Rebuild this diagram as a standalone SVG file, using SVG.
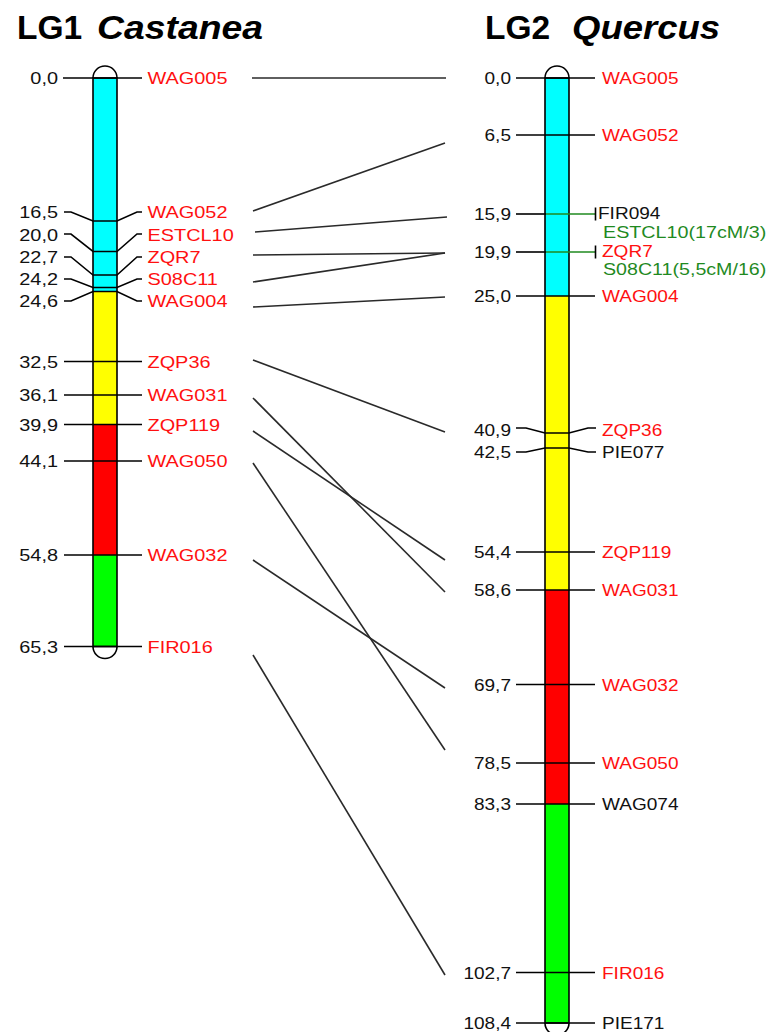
<svg xmlns="http://www.w3.org/2000/svg" width="771" height="1032" viewBox="0 0 771 1032">
<style>
text{font-family:"Liberation Sans",Arial,sans-serif}
.t{font-size:33.5px;font-weight:bold;fill:#000}
.ti{font-style:italic}
.n{font-size:17px;fill:#111}
.r{font-size:17px;fill:#ff1010}
.k{font-size:17px;fill:#111}
.g{font-size:17px;fill:#1f8a1f}
.e{text-anchor:end}
.tick{fill:none;stroke:#000;stroke-width:1.6}
.gt{fill:none;stroke:#1f8a1f;stroke-width:1.6}
.ch{stroke:#000;stroke-width:1.6}
.cap{fill:#fff;stroke:#000;stroke-width:1.6}
.con line{stroke:#2a2a2a;stroke-width:1.6}
</style>
<rect width="771" height="1032" fill="#fff"/>

<g id="title-lg1">
<text class="t" x="17" y="39">LG1</text>
<text class="t ti" transform="translate(97,39) scale(1.115 1)">Castanea</text>
</g>
<g id="title-lg2">
<text class="t" x="485" y="39">LG2</text>
<text class="t ti" transform="translate(572,39) scale(1.09 1)">Quercus</text>
</g>

<g id="chromosome-lg1">
<path class="cap" d="M93,78 A12,12 0 0 1 117,78"/>
<path class="cap" d="M93,646.5 A12,12 0 0 0 117,646.5"/>
<rect x="93" y="78" width="24" height="213.5" fill="#00ffff"/>
<rect x="93" y="291.5" width="24" height="133" fill="#ffff00"/>
<rect x="93" y="424.5" width="24" height="130.5" fill="#ff0000"/>
<rect x="93" y="555" width="24" height="91.5" fill="#00ff00"/>
<rect class="ch" x="93" y="78" width="24" height="568.5" fill="none"/>
</g>

<g id="chromosome-lg2">
<path class="cap" d="M545,78 A12,12 0 0 1 569,78"/>
<path class="cap" d="M545,1023 A12,12 0 0 0 569,1023"/>
<rect x="545" y="78" width="24" height="218" fill="#00ffff"/>
<rect x="545" y="296" width="24" height="294" fill="#ffff00"/>
<rect x="545" y="590" width="24" height="214" fill="#ff0000"/>
<rect x="545" y="804" width="24" height="219" fill="#00ff00"/>
<rect class="ch" x="545" y="78" width="24" height="945" fill="none"/>
</g>

<g id="lg1-markers">
<g id="lg1-WAG005"><path class="tick" d="M63,78 H142"/><text class="n e" transform="translate(58,84) scale(1.17 1)">0,0</text><text class="r" transform="translate(147.5,84) scale(1.17 1)">WAG005</text></g>
<g id="lg1-WAG052"><polyline class="tick" points="64,212 71,212 93,221 117,221 137,212 142,212"/><text class="n e" transform="translate(58,218) scale(1.17 1)">16,5</text><text class="r" transform="translate(147.5,218) scale(1.17 1)">WAG052</text></g>
<g id="lg1-ESTCL10"><polyline class="tick" points="64,234 71,234 93,251.5 117,251.5 137,234 142,234"/><text class="n e" transform="translate(58,240.5) scale(1.17 1)">20,0</text><text class="r" transform="translate(147.5,240.5) scale(1.17 1)">ESTCL10</text></g>
<g id="lg1-ZQR7"><polyline class="tick" points="64,257 71,257 93,275 117,275 137,257 142,257"/><text class="n e" transform="translate(58,263) scale(1.17 1)">22,7</text><text class="r" transform="translate(147.5,263) scale(1.17 1)">ZQR7</text></g>
<g id="lg1-S08C11"><polyline class="tick" points="64,279 71,279 93,287.5 117,287.5 137,279 142,279"/><text class="n e" transform="translate(58,285) scale(1.17 1)">24,2</text><text class="r" transform="translate(147.5,285) scale(1.17 1)">S08C11</text></g>
<g id="lg1-WAG004"><polyline class="tick" points="64,301 71,301 93,291.5 117,291.5 137,301 142,301"/><text class="n e" transform="translate(58,307) scale(1.17 1)">24,6</text><text class="r" transform="translate(147.5,307) scale(1.17 1)">WAG004</text></g>
<g id="lg1-ZQP36"><path class="tick" d="M64,361.5 H142"/><text class="n e" transform="translate(58,367.5) scale(1.17 1)">32,5</text><text class="r" transform="translate(147.5,367.5) scale(1.17 1)">ZQP36</text></g>
<g id="lg1-WAG031"><path class="tick" d="M64,395 H142"/><text class="n e" transform="translate(58,401) scale(1.17 1)">36,1</text><text class="r" transform="translate(147.5,401) scale(1.17 1)">WAG031</text></g>
<g id="lg1-ZQP119"><path class="tick" d="M64,424.5 H142"/><text class="n e" transform="translate(58,430.5) scale(1.17 1)">39,9</text><text class="r" transform="translate(147.5,430.5) scale(1.17 1)">ZQP119</text></g>
<g id="lg1-WAG050"><path class="tick" d="M64,461 H142"/><text class="n e" transform="translate(58,467) scale(1.17 1)">44,1</text><text class="r" transform="translate(147.5,467) scale(1.17 1)">WAG050</text></g>
<g id="lg1-WAG032"><path class="tick" d="M64,555 H142"/><text class="n e" transform="translate(58,561) scale(1.17 1)">54,8</text><text class="r" transform="translate(147.5,561) scale(1.17 1)">WAG032</text></g>
<g id="lg1-FIR016"><path class="tick" d="M64,646.5 H142"/><text class="n e" transform="translate(58,652.5) scale(1.17 1)">65,3</text><text class="r" transform="translate(147.5,652.5) scale(1.17 1)">FIR016</text></g>
</g>

<g id="lg2-markers">
<g id="lg2-WAG005"><path class="tick" d="M516,78 H595"/><text class="n e" transform="translate(511,84) scale(1.12 1)">0,0</text><text class="r" transform="translate(602,84) scale(1.12 1)">WAG005</text></g>
<g id="lg2-WAG052"><path class="tick" d="M516,135 H595"/><text class="n e" transform="translate(511,141) scale(1.12 1)">6,5</text><text class="r" transform="translate(602,141) scale(1.12 1)">WAG052</text></g>
<g id="lg2-FIR094"><path class="tick" d="M516,214 H546"/><path class="gt" d="M546,214 H595"/><path class="tick" d="M595.5,207.5 V220.5"/><text class="n e" transform="translate(511,220) scale(1.12 1)">15,9</text><text class="k" transform="translate(598,219) scale(1.12 1)">FIR094</text><text class="g" transform="translate(603,238) scale(1.16 1)">ESTCL10(17cM/3)</text></g>
<g id="lg2-ZQR7"><path class="tick" d="M516,252 H546"/><path class="gt" d="M546,252 H595"/><path class="tick" d="M595.5,245.5 V258.5"/><text class="n e" transform="translate(511,258) scale(1.12 1)">19,9</text><text class="r" transform="translate(602,257) scale(1.12 1)">ZQR7</text><text class="g" transform="translate(603,274.5) scale(1.155 1)">S08C11(5,5cM/16)</text></g>
<g id="lg2-WAG004"><path class="tick" d="M516,296 H595"/><text class="n e" transform="translate(511,302) scale(1.12 1)">25,0</text><text class="r" transform="translate(602,302) scale(1.12 1)">WAG004</text></g>
<g id="lg2-ZQP36"><polyline class="tick" points="516,428 526,428 545,433 569,433 588,428 596,428"/><text class="n e" transform="translate(511,436) scale(1.12 1)">40,9</text><text class="r" transform="translate(602,436) scale(1.12 1)">ZQP36</text></g>
<g id="lg2-PIE077"><polyline class="tick" points="516,452 526,452 545,448 569,448 588,452 596,452"/><text class="n e" transform="translate(511,458) scale(1.12 1)">42,5</text><text class="k" transform="translate(602,458) scale(1.12 1)">PIE077</text></g>
<g id="lg2-ZQP119"><path class="tick" d="M516,552 H595"/><text class="n e" transform="translate(511,558) scale(1.12 1)">54,4</text><text class="r" transform="translate(602,558) scale(1.12 1)">ZQP119</text></g>
<g id="lg2-WAG031"><path class="tick" d="M516,590 H595"/><text class="n e" transform="translate(511,596) scale(1.12 1)">58,6</text><text class="r" transform="translate(602,596) scale(1.12 1)">WAG031</text></g>
<g id="lg2-WAG032"><path class="tick" d="M516,684.5 H595"/><text class="n e" transform="translate(511,690.5) scale(1.12 1)">69,7</text><text class="r" transform="translate(602,690.5) scale(1.12 1)">WAG032</text></g>
<g id="lg2-WAG050"><path class="tick" d="M516,763 H595"/><text class="n e" transform="translate(511,769) scale(1.12 1)">78,5</text><text class="r" transform="translate(602,769) scale(1.12 1)">WAG050</text></g>
<g id="lg2-WAG074"><path class="tick" d="M516,804 H595"/><text class="n e" transform="translate(511,810) scale(1.12 1)">83,3</text><text class="k" transform="translate(602,810) scale(1.12 1)">WAG074</text></g>
<g id="lg2-FIR016"><path class="tick" d="M516,972.5 H595"/><text class="n e" transform="translate(511,978.5) scale(1.12 1)">102,7</text><text class="r" transform="translate(602,978.5) scale(1.12 1)">FIR016</text></g>
<g id="lg2-PIE171"><path class="tick" d="M516,1023 H595"/><text class="n e" transform="translate(511,1029) scale(1.12 1)">108,4</text><text class="k" transform="translate(602,1029) scale(1.12 1)">PIE171</text></g>
</g>

<g id="connectors" class="con">
<line x1="252" y1="78" x2="446" y2="78"/>
<line x1="253" y1="211" x2="445" y2="143"/>
<line x1="255" y1="232" x2="447" y2="217"/>
<line x1="253" y1="255" x2="445" y2="253"/>
<line x1="253" y1="282" x2="445" y2="253"/>
<line x1="253" y1="307" x2="445" y2="297"/>
<line x1="253" y1="360" x2="445" y2="432"/>
<line x1="253" y1="398" x2="445" y2="592"/>
<line x1="253" y1="431" x2="445" y2="560"/>
<line x1="253" y1="463" x2="445" y2="750"/>
<line x1="253" y1="560" x2="445" y2="688"/>
<line x1="253" y1="655" x2="445" y2="975"/>
</g>
</svg>
